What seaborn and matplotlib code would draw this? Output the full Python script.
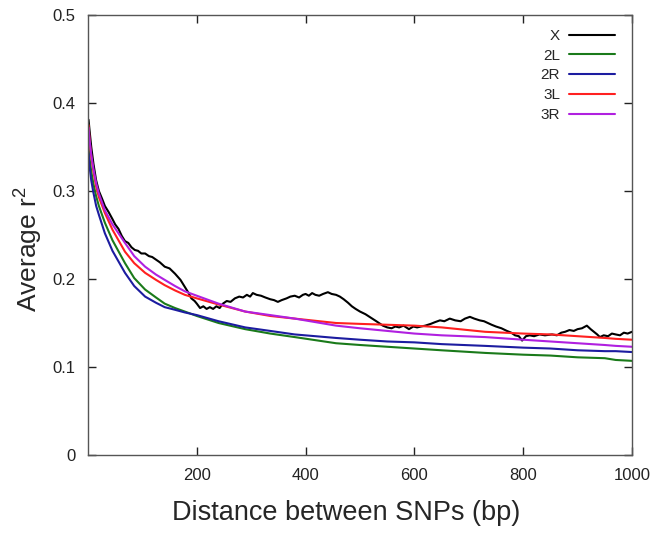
import pandas as pd
import matplotlib
matplotlib.use("Agg")
import matplotlib.pyplot as plt
import seaborn as sns

# --- data ---
dist_x = [1, 3, 6, 10, 15, 20, 26, 31, 38, 45, 50, 56, 62, 68, 74, 80, 86, 92, 98, 105,
          112, 118, 125, 132, 141, 150, 160, 170, 178, 185, 190, 196, 200, 206, 212, 218,
          224, 230, 236, 242, 248, 255, 262, 270, 278, 285, 292, 298, 303, 310, 318, 326,
          335, 342, 349, 356, 365, 372, 380, 388, 395, 400, 406, 412, 418, 425, 432, 441,
          448, 456, 463, 470, 478, 485, 492, 500, 510, 520, 530, 542, 550, 558, 565, 572,
          580, 590, 598, 605, 612, 620, 630, 638, 647, 655, 665, 675, 685, 693, 702, 710,
          720, 728, 735, 742, 750, 760, 770, 778, 785, 792, 798, 805, 812, 820, 830, 840,
          853, 862, 870, 877, 885, 893, 900, 908, 917, 924, 930, 936, 941, 948, 956, 963,
          970, 978, 985, 992, 1000]
r2_x = [0.381, 0.368, 0.350, 0.331, 0.312, 0.300, 0.291, 0.283, 0.276, 0.268, 0.262, 0.257,
        0.249, 0.243, 0.241, 0.236, 0.233, 0.232, 0.229, 0.229, 0.226, 0.225, 0.222, 0.219,
        0.214, 0.212, 0.206, 0.199, 0.191, 0.184, 0.178, 0.175, 0.172, 0.167, 0.169, 0.166,
        0.168, 0.166, 0.169, 0.167, 0.172, 0.175, 0.174, 0.178, 0.180, 0.179, 0.182, 0.180,
        0.184, 0.182, 0.181, 0.179, 0.177, 0.176, 0.174, 0.176, 0.178, 0.180, 0.181, 0.179,
        0.182, 0.183, 0.181, 0.184, 0.182, 0.181, 0.183, 0.185, 0.183, 0.182, 0.180, 0.177,
        0.173, 0.169, 0.166, 0.163, 0.160, 0.156, 0.152, 0.147, 0.145, 0.144, 0.146, 0.145,
        0.147, 0.143, 0.146, 0.145, 0.146, 0.147, 0.149, 0.151, 0.153, 0.152, 0.155, 0.153,
        0.152, 0.155, 0.157, 0.155, 0.153, 0.152, 0.150, 0.148, 0.146, 0.144, 0.141, 0.139,
        0.136, 0.135, 0.130, 0.135, 0.136, 0.135, 0.137, 0.136, 0.137, 0.136, 0.139, 0.140,
        0.142, 0.141, 0.143, 0.144, 0.147, 0.143, 0.140, 0.137, 0.134, 0.136, 0.135, 0.138,
        0.137, 0.136, 0.139, 0.138, 0.140]

dist = [1, 3, 6, 10, 15, 20, 31, 45, 68, 85, 105, 125, 141, 160, 178, 200, 240, 289, 335,
        380, 456, 500, 550, 600, 650, 730, 800, 850, 900, 950, 970, 1000]
r2_2l = [0.350, 0.336, 0.322, 0.308, 0.294, 0.283, 0.264, 0.244, 0.218, 0.201, 0.188, 0.179,
         0.172, 0.167, 0.163, 0.158, 0.150, 0.143, 0.138, 0.134, 0.127, 0.125, 0.123, 0.121,
         0.119, 0.116, 0.114, 0.113, 0.111, 0.110, 0.108, 0.107]
r2_2r = [0.343, 0.327, 0.312, 0.298, 0.283, 0.273, 0.252, 0.232, 0.207, 0.192, 0.180, 0.173,
         0.168, 0.165, 0.162, 0.159, 0.152, 0.145, 0.141, 0.137, 0.133, 0.131, 0.129, 0.128,
         0.126, 0.124, 0.122, 0.121, 0.119, 0.118, 0.118, 0.117]
r2_3l = [0.375, 0.357, 0.339, 0.322, 0.305, 0.293, 0.275, 0.256, 0.231, 0.218, 0.207, 0.199,
         0.193, 0.187, 0.182, 0.178, 0.171, 0.163, 0.158, 0.155, 0.150, 0.149, 0.148, 0.147,
         0.145, 0.140, 0.138, 0.137, 0.135, 0.133, 0.132, 0.131]
r2_3r = [0.372, 0.357, 0.341, 0.325, 0.309, 0.297, 0.278, 0.262, 0.241, 0.226, 0.214, 0.205,
         0.199, 0.192, 0.186, 0.181, 0.172, 0.163, 0.159, 0.155, 0.147, 0.144, 0.141, 0.138,
         0.136, 0.134, 0.131, 0.129, 0.127, 0.125, 0.124, 0.123]

series = [
    ("X", dist_x, r2_x, "#000000"),
    ("2L", dist, r2_2l, "#1a7a1a"),
    ("2R", dist, r2_2r, "#1c1ca0"),
    ("3L", dist, r2_3l, "#ff2020"),
    ("3R", dist, r2_3r, "#b020e0"),
]

# --- styling ---
sns.set_style("ticks")
plt.rcParams["font.family"] = ["Liberation Sans", "DejaVu Sans"]
plt.rcParams["mathtext.fontset"] = "custom"
plt.rcParams["mathtext.rm"] = "Liberation Sans"

fig = plt.figure(figsize=(6.64, 5.34), dpi=100)
ax = fig.add_axes([88 / 664, 79 / 534, 544 / 664, 440 / 534])

for name, xs, ys, col in series:
    sns.lineplot(x=xs, y=ys, ax=ax, color=col, linewidth=1.5, label=name)

ax.set_xlim(0, 1000)
ax.set_ylim(0, 0.5)
ax.set_xticks([200, 400, 600, 800, 1000])
ax.set_yticks([0, 0.1, 0.2, 0.3, 0.4, 0.5])
ax.set_yticklabels(["0", "0.1", "0.2", "0.3", "0.4", "0.5"])
ax.tick_params(direction="in", length=6, width=1, top=True, right=True,
               labelsize=12, colors="#222222", pad=9)
for sp in ax.spines.values():
    sp.set_color("#555555")
    sp.set_linewidth(1)

ax.set_xlabel("Distance between SNPs (bp)", fontsize=19.5)
ax.set_ylabel(r"Average $\mathregular{r^2}$", fontsize=19)
ax.xaxis.set_label_coords(0.474, -0.102)
ax.yaxis.set_label_coords(-0.079, 0.468)

ax.legend(loc="upper right", bbox_to_anchor=(1, 1.007), frameon=False,
          markerfirst=False, fontsize=11, handlelength=3.0, handletextpad=0.6,
          labelspacing=0.38, borderaxespad=0.71)

plt.savefig("out.png", dpi=100)
